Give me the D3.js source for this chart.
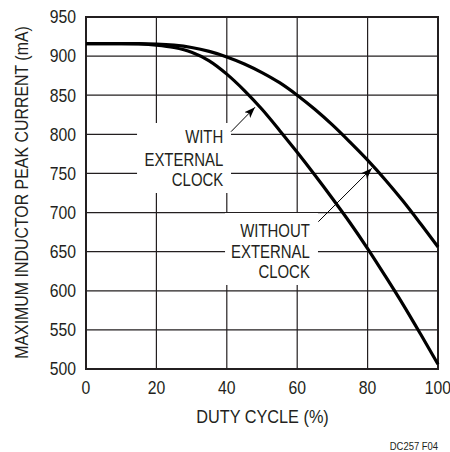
<!DOCTYPE html>
<html><head><meta charset="utf-8">
<script src="https://cdn.jsdelivr.net/npm/d3@7"></script>
<style>
html,body{margin:0;padding:0;background:#fff;}
text{font-family:"Liberation Sans",Arial,Helvetica,sans-serif;fill:#231f20;}
</style></head>
<body><svg id="c" width="450" height="452"></svg>
<script>
// Data
const duty = [0,5,10,15,20,25,30,35,40,45,50,55,60,65,70,75,80,85,90,95,100];
const withoutClock = [916,916,916,916,915.5,914,911,906,899,890,879,866,850,832,812,790,767,742,715,686,656];
const withClock    = [916,916,916,915.5,914,911,905,894,877,856,832,805,777,748,718,687,654,619,583,545,506];
const xTicks = [0,20,40,60,80,100];
const yTicks = [500,550,600,650,700,750,800,850,900,950];
const labelWith = ["WITH","EXTERNAL","CLOCK"];
const labelWithout = ["WITHOUT","EXTERNAL","CLOCK"];

const svg = d3.select("#c");
const L=86, R=438, T=17, B=369;
const x = d3.scaleLinear().domain([0,100]).range([L,R]);
const y = d3.scaleLinear().domain([500,950]).range([B,T]);

function txt(px, py, s, size, sx, anchor, rot){
  return svg.append("text")
    .attr("transform",`translate(${px},${py})`+(rot?` rotate(${rot})`:"")+` scale(${sx},1)`)
    .attr("text-anchor",anchor).attr("font-size",size).text(s);
}

// grid
const g = svg.append("g");
g.selectAll(".gx").data(xTicks.slice(1,-1)).enter().append("line")
 .attr("x1",d=>x(d)).attr("x2",d=>x(d)).attr("y1",T).attr("y2",B)
 .attr("stroke","#231f20").attr("stroke-width",1.2);
g.selectAll(".gy").data(yTicks.slice(1,-1)).enter().append("line")
 .attr("x1",L).attr("x2",R).attr("y1",d=>y(d)).attr("y2",d=>y(d))
 .attr("stroke","#231f20").attr("stroke-width",1.2);

// white boxes behind labels (data coords)
const boxes = [[14.5,41.2,814.5,725],[39.5,65.9,699.4,607.4]];
svg.selectAll(".bx").data(boxes).enter().append("rect")
 .attr("x",d=>x(d[0])).attr("width",d=>x(d[1])-x(d[0]))
 .attr("y",d=>y(d[2])).attr("height",d=>y(d[3])-y(d[2]))
 .attr("fill","#fff");

// frame
svg.append("rect").attr("x",L).attr("y",T).attr("width",R-L).attr("height",B-T)
 .attr("fill","none").attr("stroke","#231f20").attr("stroke-width",2);

// curves
const line = d3.line().x((d,i)=>x(duty[i])).y(d=>y(d)).curve(d3.curveMonotoneX);
[withoutClock, withClock].forEach(s=>{
  svg.append("path").attr("d",line(s)).attr("fill","none")
   .attr("stroke","#000").attr("stroke-width",3.2).attr("stroke-linecap","butt");
});

// arrows
svg.append("defs").append("marker").attr("id","ah").attr("viewBox","0 0 10 10")
 .attr("refX",10).attr("refY",5).attr("markerWidth",11).attr("markerHeight",11)
 .attr("markerUnits","userSpaceOnUse").attr("orient","auto")
 .append("path").attr("d","M0,1.3 L10,5 L0,8.7 L2.5,5 Z").attr("fill","#000");
const arrows = [[41.2,803.4,48.0,834.6],[66.0,688.3,81.2,756.6]];
svg.selectAll(".ar").data(arrows).enter().append("line")
 .attr("x1",d=>x(d[0])).attr("y1",d=>y(d[1])).attr("x2",d=>x(d[2])).attr("y2",d=>y(d[3]))
 .attr("stroke","#000").attr("stroke-width",1).attr("marker-end","url(#ah)");

// annotation text
function block(lines, xr, ys){
  lines.forEach((t,i)=> txt(x(xr), y(ys[i]), t, 18, 0.83, "end"));
}
block(labelWith, 39.0, [788.5,759.5,734]);
block(labelWithout, 63.6, [669,642.3,616]);

// tick labels
xTicks.forEach(d=> txt(x(d), 394, d, 17.5, 0.9, "middle"));
yTicks.forEach(d=> txt(76, y(d)+6.3, d, 17.5, 0.9, "end"));

// axis titles
txt(262.5, 423, "DUTY CYCLE (%)", 18.5, 0.88, "middle");
txt(28, 192.5, "MAXIMUM INDUCTOR PEAK CURRENT (mA)", 18.5, 0.86, "middle", -90);
txt(438, 450, "DC257 F04", 10.5, 0.9, "end");
</script></body></html>
